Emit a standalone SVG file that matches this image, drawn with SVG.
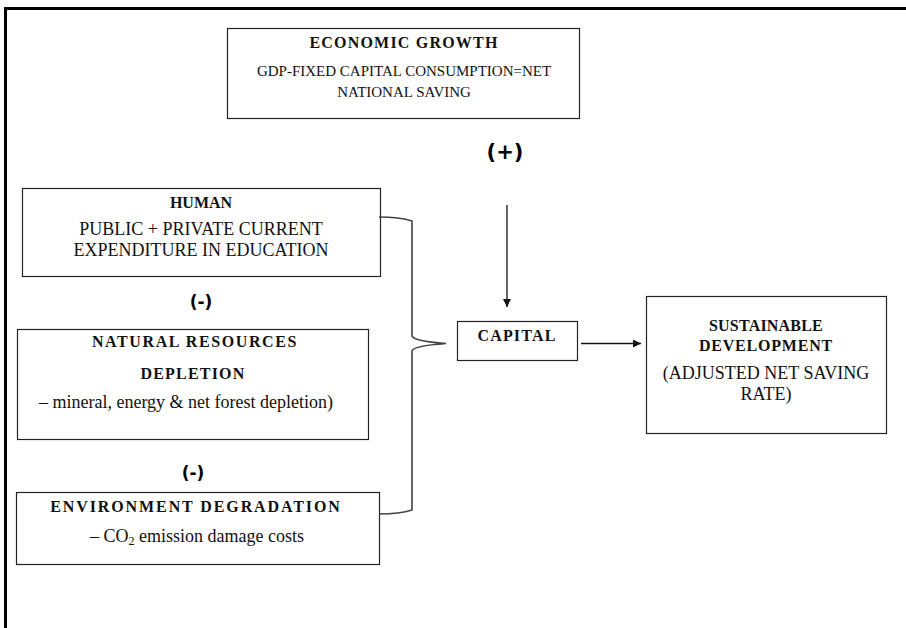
<svg xmlns="http://www.w3.org/2000/svg" width="906" height="628" viewBox="0 0 906 628">
<style>
.box{fill:#fff;stroke:#222;stroke-width:1.2}
.t{font-family:"Liberation Serif","Times New Roman",serif;font-size:18px;fill:#111;text-anchor:middle}
.s{font-size:15px}
.b{font-family:"Liberation Serif","Times New Roman",serif;font-size:16px;font-weight:bold;fill:#111;text-anchor:middle;letter-spacing:1.2px}
.sg{font-family:"DejaVu Sans",sans-serif;font-weight:bold;fill:#000;text-anchor:middle}
.ln{fill:none;stroke:#111;stroke-width:1.3}
.br{fill:none;stroke:#444;stroke-width:1.6}
</style>
<defs>
<marker id="ah" viewBox="0 0 10 10" refX="10" refY="5" markerWidth="8" markerHeight="8" markerUnits="userSpaceOnUse" orient="auto">
<path d="M0,0 L10,5 L0,10 z" fill="#111"/>
</marker>
</defs>
<rect width="906" height="628" fill="#fff"/>
<g id="frame">
<line x1="4" y1="8.5" x2="906" y2="8.5" stroke="#000" stroke-width="3"/>
<line x1="5.5" y1="7" x2="5.5" y2="628" stroke="#000" stroke-width="3"/>
</g>
<g id="economic-growth">
<rect class="box" x="227.5" y="28.5" width="352" height="90"/>
<text class="b" x="404" y="48">ECONOMIC GROWTH</text>
<text class="t s" x="404" y="76">GDP-FIXED CAPITAL CONSUMPTION=NET</text>
<text class="t s" x="404" y="97">NATIONAL SAVING</text>
</g>
<g id="plus-sign"><text class="sg" x="505" y="159" font-size="21">(+)</text></g>
<g id="human">
<rect class="box" x="22.5" y="188.5" width="358" height="88"/>
<text class="b" x="201" y="208" style="letter-spacing:0">HUMAN</text>
<text class="t" x="201" y="235">PUBLIC + PRIVATE CURRENT</text>
<text class="t" x="201" y="256">EXPENDITURE IN EDUCATION</text>
</g>
<g id="minus-1"><text class="sg" x="201" y="308" font-size="17">(-)</text></g>
<g id="natural-resources">
<rect class="box" x="17.5" y="329.5" width="351" height="110"/>
<text class="b" x="195" y="347" style="letter-spacing:1.6px">NATURAL RESOURCES</text>
<text class="b" x="193" y="379">DEPLETION</text>
<text class="t" x="186" y="408">– mineral, energy &amp; net forest depletion)</text>
</g>
<g id="minus-2"><text class="sg" x="193" y="479" font-size="17">(-)</text></g>
<g id="environment">
<rect class="box" x="16.5" y="492.5" width="363" height="72"/>
<text class="b" x="196" y="512" style="letter-spacing:1.9px">ENVIRONMENT DEGRADATION</text>
<text class="t" x="197" y="542">– CO<tspan font-size="12" dy="3">2</tspan><tspan dy="-3"> emission damage costs</tspan></text>
</g>
<g id="capital">
<rect class="box" x="457.5" y="321.5" width="120" height="39"/>
<text class="b" x="517" y="341">CAPITAL</text>
</g>
<g id="sustainable-development">
<rect class="box" x="646.5" y="296.5" width="240" height="137"/>
<text class="b" x="766" y="331" style="letter-spacing:0.2px">SUSTAINABLE</text>
<text class="b" x="766" y="351" style="letter-spacing:0.8px">DEVELOPMENT</text>
<text class="t" x="766" y="379">(ADJUSTED NET SAVING</text>
<text class="t" x="766" y="400">RATE)</text>
</g>
<g id="connectors">
<line class="ln" x1="507" y1="205" x2="507" y2="307" marker-end="url(#ah)"/>
<line class="ln" x1="581" y1="343.5" x2="641" y2="343.5" marker-end="url(#ah)"/>
<path class="br" d="M379,217 Q400,217 412,221 L412,336 Q413,341 446,343.5 Q413,346 412,351 L412,510 Q400,514 379,514"/>
</g>
</svg>
